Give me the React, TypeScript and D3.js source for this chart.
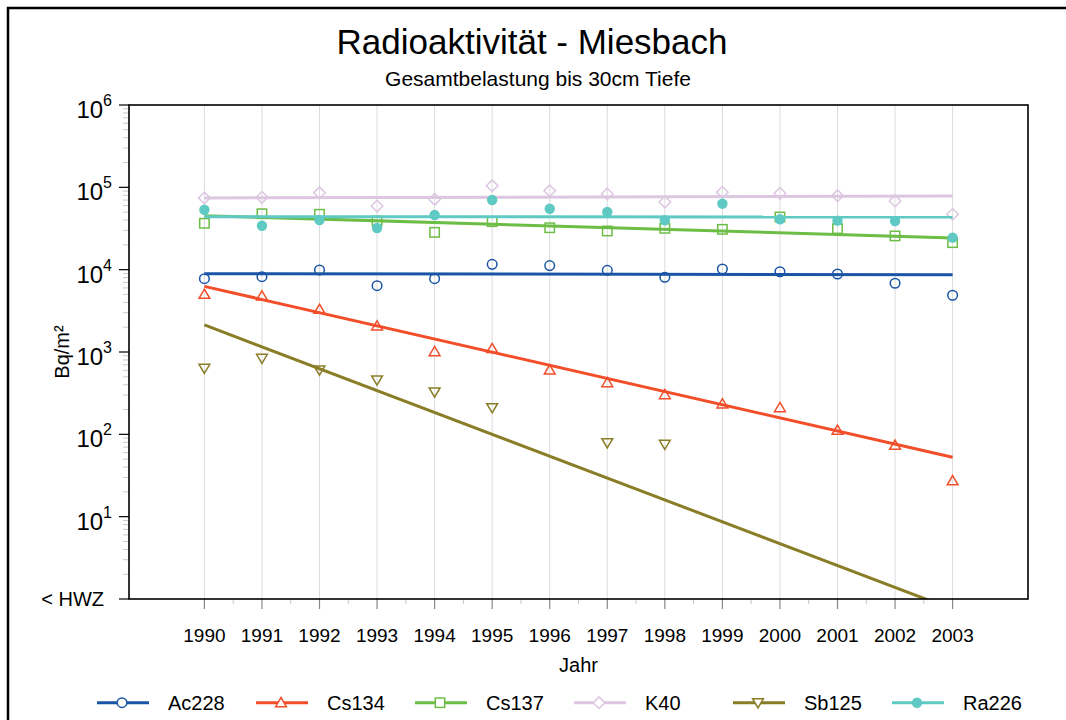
import React from "react";
import * as d3 from "d3";

const years = [1990, 1991, 1992, 1993, 1994, 1995, 1996, 1997, 1998, 1999, 2000, 2001, 2002, 2003];
const seriesNames = ["Ac228", "Cs134", "Cs137", "K40", "Sb125", "Ra226"];
const seriesColors = ["#1a54a6", "#f24e2a", "#6cbd45", "#dcc6e0", "#8a7d27", "#5fc9c3"];
const seriesMarkers = ["circle", "triangleUp", "square", "diamond", "triangleDown", "dot"];

const ac228 = [7770, 8220, 9910, 6390, 7770, 11600, 11200, 9820, 8080, 10200, 9440, 8850, 6840, 4890];
const cs134 = [5020, 4790, 3300, 2070, 1010, 1100, 604, 424, 303, 234, 211, 112, 73.6, 27.3];
const cs137 = [36600, 47800, 47100, 39000, 28400, 38300, 32300, 29500, 31800, 30900, 43600, 31500, 25700, 21300];
const k40 = [74300, 75700, 86100, 59300, 71600, 104700, 91000, 83000, 66300, 87100, 84700, 79200, 68300, 47100];
const sb125 = [634, 839, 604, 457, 327, 211, null, 79.1, 75.7, null, null, null, null, null];
const ra226 = [53500, 34200, 40100, 32100, 46100, 70100, 55000, 50200, 39800, 63300, 40900, 39400, 39000, 24500];

// trend line values at 1990 and 2003
const trendStart = [8940, 6270, 45300, 74300, 2130, 44000];
const trendEnd = [8690, 52.6, 24300, 78500, 0.75, 43600];

const yTickValues = [1, 10, 100, 1000, 10000, 100000, 1000000];
const yTickExponents = ["", "1", "2", "3", "4", "5", "6"];
const bottomLabel = "< HWZ";

const title = "Radioaktivität - Miesbach";
const subtitle = "Gesamtbelastung bis 30cm Tiefe";
const xTitle = "Jahr";
const yTitle = "Bq/m²";

const allSeries = [ac228, cs134, cs137, k40, sb125, ra226];

const FONT = "'Liberation Sans', Arial, sans-serif";

function Marker({ type, x, y, color, fill }: { type: string; x: number; y: number; color: string; fill: string }) {
  const sw = 1.5;
  if (type === "circle") return <circle cx={x} cy={y} r={4.8} fill={fill} stroke={color} strokeWidth={sw} />;
  if (type === "dot") return <circle cx={x} cy={y} r={5.2} fill={color} stroke="none" />;
  if (type === "square") return <rect x={x - 4.7} y={y - 4.7} width={9.4} height={9.4} fill={fill} stroke={color} strokeWidth={sw} />;
  if (type === "diamond")
    return <path d={`M${x},${y - 5.8}L${x + 5.8},${y}L${x},${y + 5.8}L${x - 5.8},${y}Z`} fill={fill} stroke={color} strokeWidth={sw} />;
  if (type === "triangleUp")
    return <path d={`M${x},${y - 5.2}L${x + 5.4},${y + 4}L${x - 5.4},${y + 4}Z`} fill={fill} stroke={color} strokeWidth={sw} />;
  if (type === "triangleDown")
    return <path d={`M${x},${y + 5.2}L${x + 5.4},${y - 4}L${x - 5.4},${y - 4}Z`} fill={fill} stroke={color} strokeWidth={sw} />;
  return null;
}

export default function App() {
  const left = 129, right = 1028, top = 105, bottom = 599;
  const x = d3.scaleLinear().domain([1988.69, 2004.31]).range([left, right]);
  const y = d3.scaleLog().domain([1, 1e6]).range([bottom, top]);

  const minorY: number[] = [];
  for (let e = 0; e < 6; e++) for (let k = 2; k <= 9; k++) minorY.push(k * Math.pow(10, e));
  const minorX: number[] = years.slice(0, -1).map((v) => v + 0.5);

  const line = d3
    .line<[number, number]>()
    .x((d) => x(d[0]))
    .y((d) => y(d[1]));

  const legendX0 = 97, legendStep = 159, legendY = 702.7;

  return (
    <svg width={1066} height={720} style={{ position: "absolute", left: 0, top: 0, background: "#fff" }} fontFamily={FONT}>
      <defs>
        <clipPath id="plotclip">
          <rect x={left} y={top} width={right - left} height={bottom - top} />
        </clipPath>
      </defs>
      <rect x={8} y={8} width={1070} height={730} fill="none" stroke="#000" strokeWidth={2.5} />
      <text x={532} y={54} textAnchor="middle" fontSize={35} fill="#000">{title}</text>
      <text x={538} y={86} textAnchor="middle" fontSize={21} fill="#000">{subtitle}</text>

      {/* gridlines */}
      {years.map((yr) => (
        <line key={"g" + yr} x1={x(yr)} x2={x(yr)} y1={top} y2={bottom} stroke="#dcdcdc" strokeWidth={1} />
      ))}

      {/* y axis ticks */}
      {minorY.map((v, i) => (
        <line key={"my" + i} x1={left - 6} x2={left} y1={y(v)} y2={y(v)} stroke="#c8c8c8" strokeWidth={1} />
      ))}
      {yTickValues.map((v, i) => (
        <line key={"ty" + i} x1={left - 10} x2={left} y1={y(v)} y2={y(v)} stroke="#000" strokeWidth={1.2} />
      ))}
      {yTickValues.map((v, i) =>
        i === 0 ? (
          <text key={"yl" + i} x={104} y={y(v) + 7} textAnchor="end" fontSize={20}>{bottomLabel}</text>
        ) : (
          <text key={"yl" + i} x={112} y={y(v) + 13} textAnchor="end" fontSize={24}>
            10<tspan fontSize={16} dy={-12}>{yTickExponents[i]}</tspan>
          </text>
        )
      )}

      {/* x axis ticks */}
      {minorX.map((v, i) => (
        <line key={"mx" + i} x1={x(v)} x2={x(v)} y1={bottom} y2={bottom + 5} stroke="#c8c8c8" strokeWidth={1} />
      ))}
      {years.map((yr) => (
        <line key={"tx" + yr} x1={x(yr)} x2={x(yr)} y1={bottom} y2={bottom + 10} stroke="#888" strokeWidth={1.2} />
      ))}
      {years.map((yr) => (
        <text key={"xl" + yr} x={x(yr)} y={642} textAnchor="middle" fontSize={19}>{yr}</text>
      ))}

      <text x={(left + right) / 2} y={672} textAnchor="middle" fontSize={20}>{xTitle}</text>
      <text transform={`translate(69,${(top + bottom) / 2}) rotate(-90)`} textAnchor="middle" fontSize={20}>{yTitle}</text>

      {/* series */}
      <g clipPath="url(#plotclip)">
        {allSeries.map((vals, si) => (
          <g key={"s" + si}>
            {vals.map((v, i) =>
              v == null ? null : (
                <Marker key={i} type={seriesMarkers[si]} x={x(years[i])} y={y(v)} color={seriesColors[si]} fill="none" />
              )
            )}
            <path
              d={line([
                [years[0], trendStart[si]],
                [years[years.length - 1], trendEnd[si]],
              ]) || ""}
              fill="none"
              stroke={seriesColors[si]}
              strokeWidth={3}
            />
          </g>
        ))}
      </g>

      {/* frame */}
      <rect x={left} y={top} width={right - left} height={bottom - top} fill="none" stroke="#000" strokeWidth={1.6} />

      {/* legend */}
      {seriesNames.map((name, i) => {
        const lx = legendX0 + i * legendStep;
        return (
          <g key={"lg" + i}>
            <line x1={lx} x2={lx + 52} y1={legendY} y2={legendY} stroke={seriesColors[i]} strokeWidth={3} />
            <Marker type={seriesMarkers[i]} x={lx + 25} y={legendY} color={seriesColors[i]} fill="#fff" />
            <text x={lx + 71} y={legendY + 7} fontSize={20}>{name}</text>
          </g>
        );
      })}
    </svg>
  );
}
